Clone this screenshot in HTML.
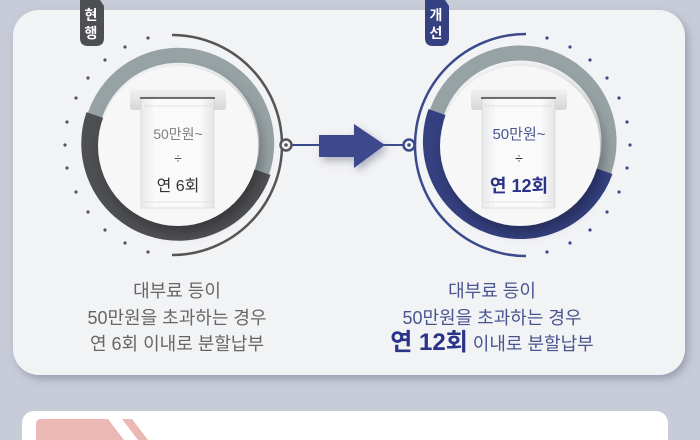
<!DOCTYPE html>
<html><head><meta charset="utf-8"><style>
html,body{margin:0;padding:0;width:700px;height:440px;overflow:hidden;background:#c8ccd8;}
svg{display:block;font-family:"Liberation Sans","Noto Sans CJK KR",sans-serif;}
</style></head><body>
<svg width="700" height="440" viewBox="0 0 700 440" xmlns="http://www.w3.org/2000/svg">
<defs>
<filter id="sh" x="-10%" y="-10%" width="130%" height="130%"><feDropShadow dx="3" dy="4" stdDeviation="4" flood-color="#6a7088" flood-opacity="0.5"/></filter>
<filter id="cs" x="-30%" y="-30%" width="160%" height="160%"><feDropShadow dx="4" dy="6" stdDeviation="6" flood-color="#000" flood-opacity="0.3"/></filter>
<linearGradient id="slot" x1="0" y1="0" x2="0" y2="1"><stop offset="0" stop-color="#f2f2f2"/><stop offset="1" stop-color="#d4d6d8"/></linearGradient>
<linearGradient id="paper" x1="0" y1="0" x2="1" y2="0"><stop offset="0" stop-color="#e8e9eb"/><stop offset="0.2" stop-color="#fafafa"/><stop offset="0.8" stop-color="#fafafa"/><stop offset="1" stop-color="#e4e5e7"/></linearGradient>
</defs>
<rect x="13" y="10" width="672" height="365" rx="26" fill="#f2f3f5" filter="url(#sh)"/>
<rect x="22" y="411" width="646" height="40" rx="12" fill="#fff"/>
<path d="M36 440 V424 Q36 419 41 419 H108 L124 440Z" fill="#ecb8b4"/>
<path d="M122 419 H132 L148 440 H138Z" fill="#ecb8b4"/>

<!-- LEFT -->
<g>
<path d="M172 35 A110 110 0 0 1 172 255" fill="none" stroke="#555" stroke-width="2.5"/>
<g fill="#555">
<circle cx="148" cy="38" r="1.6"/><circle cx="125" cy="47" r="1.6"/><circle cx="105" cy="60" r="1.6"/><circle cx="88" cy="78" r="1.6"/><circle cx="76" cy="98" r="1.6"/><circle cx="67" cy="122" r="1.6"/><circle cx="65" cy="145" r="1.6"/><circle cx="67" cy="168" r="1.6"/><circle cx="76" cy="192" r="1.6"/><circle cx="88" cy="212" r="1.6"/><circle cx="105" cy="230" r="1.6"/><circle cx="125" cy="243" r="1.6"/><circle cx="148" cy="252" r="1.6"/>
</g>
<path d="M95 115 A88 88 0 0 1 262 172" fill="none" stroke="#97a2a5" stroke-width="15"/>
<path d="M262 172 A88 88 0 0 1 95 115" fill="none" stroke="#4e4f52" stroke-width="18"/>
<circle cx="178" cy="146" r="80" fill="#f7f7f8" filter="url(#cs)"/>
<rect x="130" y="89" width="96" height="21" rx="3" fill="url(#slot)"/>
<rect x="141" y="97" width="73" height="111" fill="url(#paper)" stroke="#d8d9db" stroke-width="0.8"/>
<line x1="140" y1="98" x2="215" y2="98" stroke="#444" stroke-width="1.5"/>
<line x1="145" y1="106" x2="210" y2="106" stroke="#ccc" stroke-dasharray="1 1"/>
<line x1="145" y1="202" x2="210" y2="202" stroke="#ccc" stroke-dasharray="1 1"/>
<text x="178" y="139" text-anchor="middle" font-size="14" fill="#808080">50만원~</text>
<text x="178" y="163" text-anchor="middle" font-size="14" fill="#555">÷</text>
<text x="178" y="191" text-anchor="middle" font-size="16" fill="#333">연 6회</text>
<circle cx="286" cy="145" r="5.5" fill="#f2f3f5" stroke="#555" stroke-width="2.5"/>
<circle cx="286" cy="145" r="1.8" fill="#555"/>
</g>

<!-- connector -->
<line x1="292" y1="145" x2="404" y2="145" stroke="#3c4a8c" stroke-width="2"/>
<path d="M319 135 H354 V124 L385 145 L354 168 V157 H319Z" fill="#3c4a8c" filter="url(#sh)"/>

<!-- RIGHT -->
<g>
<path d="M526 34 A111 111 0 0 0 526 256" fill="none" stroke="#3c4a8c" stroke-width="2.5"/>
<g fill="#3c4a8c">
<circle cx="547" cy="38" r="1.6"/><circle cx="570" cy="47" r="1.6"/><circle cx="590" cy="60" r="1.6"/><circle cx="607" cy="78" r="1.6"/><circle cx="619" cy="98" r="1.6"/><circle cx="627" cy="122" r="1.6"/><circle cx="630" cy="145" r="1.6"/><circle cx="627" cy="168" r="1.6"/><circle cx="619" cy="192" r="1.6"/><circle cx="607" cy="212" r="1.6"/><circle cx="590" cy="230" r="1.6"/><circle cx="570" cy="243" r="1.6"/><circle cx="547" cy="252" r="1.6"/>
</g>
<path d="M437 112 A88 88 0 0 1 604 171" fill="none" stroke="#97a2a5" stroke-width="15"/>
<path d="M604 171 A88 88 0 0 1 437 112" fill="none" stroke="#34407f" stroke-width="18"/>
<circle cx="520" cy="146" r="80" fill="#f7f7f8" filter="url(#cs)"/>
<rect x="471" y="89" width="96" height="21" rx="3" fill="url(#slot)"/>
<rect x="482" y="97" width="73" height="111" fill="url(#paper)" stroke="#d8d9db" stroke-width="0.8"/>
<line x1="481" y1="98" x2="556" y2="98" stroke="#444" stroke-width="1.5"/>
<line x1="486" y1="106" x2="551" y2="106" stroke="#ccc" stroke-dasharray="1 1"/>
<line x1="486" y1="202" x2="551" y2="202" stroke="#ccc" stroke-dasharray="1 1"/>
<text x="519" y="139" text-anchor="middle" font-size="15" fill="#4a5590">50만원~</text>
<text x="519" y="163" text-anchor="middle" font-size="14" fill="#333">÷</text>
<text x="519" y="192" text-anchor="middle" font-size="18" font-weight="bold" fill="#2a3388">연 12회</text>
<circle cx="409" cy="145" r="5.5" fill="#f2f3f5" stroke="#3c4a8c" stroke-width="2.5"/>
<circle cx="409" cy="145" r="1.8" fill="#3c4a8c"/>
</g>

<!-- tags -->
<path d="M80 0 H100 L104 6 V38 Q104 46 96 46 H88 Q80 46 80 38Z" fill="#4e4f52"/>
<text x="91" y="20" text-anchor="middle" font-size="14" font-weight="bold" fill="#fff">현</text>
<text x="91" y="38" text-anchor="middle" font-size="14" font-weight="bold" fill="#fff">행</text>
<path d="M425 0 H445 L449 6 V38 Q449 46 441 46 H433 Q425 46 425 38Z" fill="#34407f"/>
<text x="436" y="20" text-anchor="middle" font-size="14" font-weight="bold" fill="#fff">개</text>
<text x="436" y="38" text-anchor="middle" font-size="14" font-weight="bold" fill="#fff">선</text>

<!-- captions -->
<g font-size="18" fill="#666" text-anchor="middle">
<text x="177" y="297">대부료 등이</text>
<text x="177" y="324">50만원을 초과하는 경우</text>
<text x="177" y="350">연 6회 이내로 분할납부</text>
</g>
<g font-size="18" fill="#4a5590" text-anchor="middle">
<text x="492" y="297">대부료 등이</text>
<text x="492" y="324">50만원을 초과하는 경우</text>
<text x="492" y="350"><tspan font-size="24" font-weight="bold" fill="#2a3388">연 12회</tspan> 이내로 분할납부</text>
</g>
</svg>
</body></html>
